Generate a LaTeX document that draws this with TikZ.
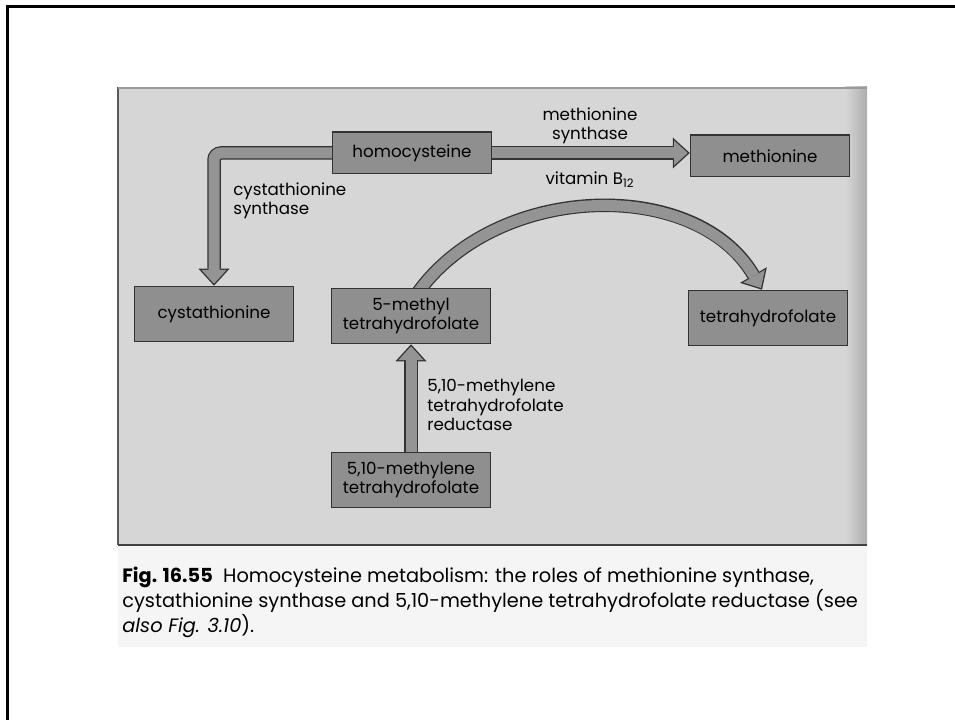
\documentclass[tikz,border=0pt]{standalone}
\usepackage{fontspec}
\setmainfont{Poppins}
\usetikzlibrary{arrows.meta}
\pgfdeclarelayer{background}
\pgfsetlayers{background,main}
\tikzset{
    box/.style = {draw = black!80, line width = 0.3mm, fill = black!44, minimum width = 31.8mm, inner sep = 0pt, align = center, font = \fontsize{9.5}{11}\selectfont},
    boxtop/.style = {box, minimum height = 8.3mm},
    boxlow/.style = {box, minimum height = 11mm},
    note/.style = {inner sep = 0pt, align = left, font = \fontsize{9.5}{11}\selectfont},
    caption/.style = {anchor = north west, inner sep = 0pt, align = left, font = \fontsize{11}{12.1}\selectfont},
    fatedge/.style = {line width = 2.7mm, draw = black!80, -{Triangle[length = 3.4mm, width = 6.2mm, line width = 0pt]}},
    fatcore/.style = {line width = 2.2mm, draw = black!42, shorten > = 0.4mm, -{Triangle[length = 2.75mm, width = 5mm, line width = 0pt]}}
}
% a wide arrow: dark rim first, grey body on top
\newcommand{\fatarrow}[2][]{\draw [fatedge, #1] #2; \draw [fatcore, #1] #2;}
\begin{document}
\begin{tikzpicture}[x = 0.2mm, y = -0.2mm]
        \useasboundingbox (0, 0) rectangle (955, 720);
        % slide frame
        \draw [line width = 0.6mm] (7, 720) -- (7, 7) -- (955, 7);
        % boxes
        \node [boxtop] (homo) at (412, 153) {homocysteine};
        \node [boxtop] (meth) at (770, 156) {methionine};
        \node [boxlow] (cysta) at (214, 314) {cystathionine};
        \node [boxlow] (mthf) at (411, 316) {5-methyl\\tetrahydrofolate};
        \node [boxlow] (thf) at (768, 318) {tetrahydrofolate};
        \node [boxlow] (mlthf) at (411, 480) {5,10-methylene\\tetrahydrofolate};
        % enzyme labels
        \node [note, align = center] (msyn) at (590, 126) {methionine\\synthase};
        \node [note] (vitb) at (590, 180) {vitamin B\textsubscript{12}};
        \node [note, anchor = west] (csyn) at (233, 201) {cystathionine\\synthase};
        \node [note, anchor = west] (mred) at (427, 405) {5,10-methylene\\tetrahydrofolate\\reductase};
        \node [caption] (cap) at (122, 567) {\textbf{Fig. 16.55}\ \ Homocysteine metabolism: the roles of methionine synthase,\\cystathionine synthase and 5,10-methylene tetrahydrofolate reductase (see\\\textit{also Fig. 3.10}).};
        \begin{pgfonlayer}{background}
            % scanned page
            \fill [black!16] (118, 87) rectangle (867, 545);
            \shade [left color = black!16, right color = black!32] (845, 87) rectangle (867, 545);
            \fill [black!4] (118, 545) rectangle (867, 647);
            \draw [black!65, line width = 0.4mm] (118, 545) -- (118, 87);
            \draw [black!40, line width = 0.3mm] (118, 88) -- (867, 88);
            \draw [black!75, line width = 0.5mm] (118, 545) -- (867, 545);
            % arrows
            \fatarrow{(homo.east) -- (homo.east -| meth.west)}
            \fatarrow[rounded corners = 1.4mm]{(homo.west) -| (cysta.north)}
            \fatarrow{(mlthf.north) -- (mthf.south)}
            \fatarrow[shorten < = -1.5mm]{(mthf.70) .. controls +(75, -106) and +(-66, -113) .. (thf.102)}
        \end{pgfonlayer}
    \end{tikzpicture}
\end{document}
